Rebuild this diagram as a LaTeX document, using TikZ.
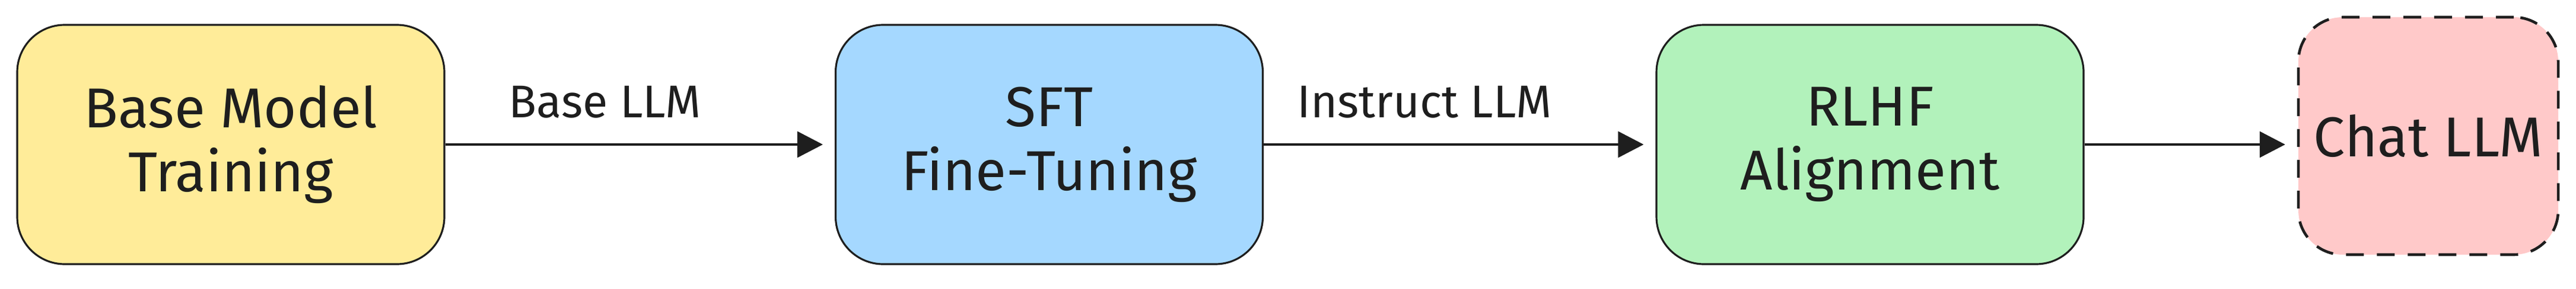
\documentclass[tikz,border=0pt]{standalone}
\usepackage{fontspec}
\setmainfont{Fira Sans}
\usepackage{xcolor}
\usepackage{tikz}
\usetikzlibrary{arrows.meta}

\definecolor{ink}{HTML}{1E1E1E}
\definecolor{yellowfill}{HTML}{FFEC99}
\definecolor{bluefill}{HTML}{A5D8FF}
\definecolor{greenfill}{HTML}{B2F2BB}
\definecolor{pinkfill}{HTML}{FFC9C9}

\begin{document}
\begin{tikzpicture}[
  stage/.style={draw=ink, line width=0.9pt, rounded corners=0.8cm,
    minimum width=7.2cm, minimum height=4.04cm, inner sep=0pt,
    align=center, text=ink, font=\fontsize{27}{30.7}\selectfont},
  result/.style={draw=ink, line width=1.3pt, dash pattern=on 0.3cm off 0.22cm,
    rounded corners=0.75cm, minimum width=4.38cm, minimum height=4.01cm,
    inner sep=0pt, align=center, text=ink, font=\fontsize{27}{30.7}\selectfont},
  flow/.style={draw=ink, line width=0.9pt, -{Triangle[length=4.3mm,width=4.4mm]},
    shorten >=0.2cm},
  tag/.style={text=ink, inner sep=0pt, font=\fontsize{22}{26}\selectfont}
]
\useasboundingbox (0,0) rectangle (43.42,4.87);

\node [stage, fill=yellowfill] (base) at (3.89,2.43) {Base Model\\Training};
\node [stage, fill=bluefill] (sft) at (17.685,2.43) {SFT\\Fine-Tuning};
\node [stage, fill=greenfill] (rlhf) at (31.52,2.43) {RLHF\\Alignment};
\node [result, fill=pinkfill] (chat) at (40.93,2.575) {Chat LLM};

\draw[flow] (base.east) -- node[tag, above=0.43cm, pos=0.41] {Base LLM} (sft.west);
\draw[flow] (sft.east) -- node[tag, above=0.43cm, pos=0.41] {Instruct LLM} (rlhf.west);
\draw[flow] (rlhf.east) -- (rlhf.east -| chat.west);

\end{tikzpicture}
\end{document}
